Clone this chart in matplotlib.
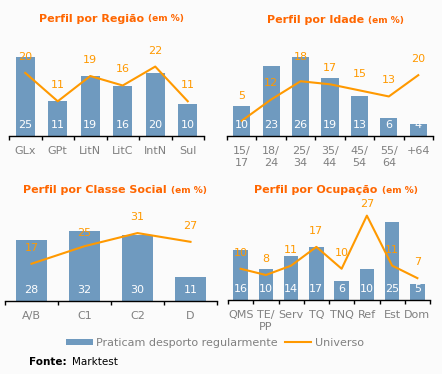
import matplotlib
matplotlib.use("Agg")
import matplotlib.pyplot as plt

# data
regiao_cats = ["GLx", "GPt", "LitN", "LitC", "IntN", "Sul"]
regiao_pratica = [25, 11, 19, 16, 20, 10]
regiao_universo = [20, 11, 19, 16, 22, 11]

idade_cats = ["15/\n17", "18/\n24", "25/\n34", "35/\n44", "45/\n54", "55/\n64", "+64"]
idade_pratica = [10, 23, 26, 19, 13, 6, 4]
idade_universo = [5, 12, 18, 17, 15, 13, 20]

classe_cats = ["A/B", "C1", "C2", "D"]
classe_pratica = [28, 32, 30, 11]
classe_universo = [17, 25, 31, 27]

ocup_cats = ["QMS", "TE/\nPP", "Serv", "TQ", "TNQ", "Ref", "Est", "Dom"]
ocup_pratica = [16, 10, 14, 17, 6, 10, 25, 5]
ocup_universo = [10, 8, 11, 17, 10, 27, 11, 7]

W, H = 442, 374
BG = "#fbfbfb"
BAR = "#6f9abf"
LINE = "#ff9900"
TITLE = "#ff6600"
GREY = "#808080"

fig = plt.figure(figsize=(W / 100, H / 100), dpi=100, facecolor=BG)


def px_axes(left, right, base, top):
    return fig.add_axes([left / W, 1 - base / H, (right - left) / W, (base - top) / H])


def panel(ax, cats, bars, line, ymax, label_dy=None):
    label_dy = label_dy or {}
    n = len(cats)
    x = list(range(n))
    ax.set_facecolor(BG)
    b = ax.bar(x, bars, width=0.58, color=BAR)
    ln, = ax.plot(x, line, color=LINE, lw=1.5, zorder=3)
    ax.set_xlim(-0.5, n - 0.5)
    ax.set_ylim(0, ymax)
    for s in ["top", "left", "right"]:
        ax.spines[s].set_visible(False)
    ax.spines["bottom"].set_linewidth(1)
    ax.set_yticks([])
    ax.set_xticks(x)
    ax.set_xticklabels(cats, fontsize=8, color=GREY, linespacing=1.25)
    ax.tick_params(axis="x", which="major", length=0, pad=7)
    ax.set_xticks([i - 0.5 for i in range(n + 1)], minor=True)
    ax.tick_params(axis="x", which="minor", length=3, width=1, direction="out")
    for i, v in enumerate(bars):
        ax.annotate(str(v), (i, 0), xytext=(0, 11 * 0.72), textcoords="offset points",
                    ha="center", va="center", color="white", fontsize=8)
    for i, v in enumerate(line):
        dy = label_dy.get(i, 16)
        ax.annotate(str(v), (i, v), xytext=(0, dy * 0.72), textcoords="offset points",
                    ha="center", va="center", color=LINE, fontsize=8, zorder=4)
    return b, ln


def title(xc, yc, main):
    t1 = fig.text(0, 0, main + " ", fontsize=8, fontweight="bold", color=TITLE)
    t2 = fig.text(0, 0, "(em %)", fontsize=6.5, fontweight="bold", color=TITLE)
    r = fig.canvas.get_renderer()
    w1 = t1.get_window_extent(r).width
    w2 = t2.get_window_extent(r).width
    x0 = xc - (w1 + w2) / 2
    t1.set_position((x0 / W, 1 - yc / H))
    t1.set_va("center")
    t2.set_position(((x0 + w1) / W, 1 - yc / H))
    t2.set_va("center")


ax1 = px_axes(9, 204, 136, 35)
bars, line = panel(ax1, regiao_cats, regiao_pratica, regiao_universo, 32)
ax2 = px_axes(227, 433, 136, 35)
panel(ax2, idade_cats, idade_pratica, idade_universo, 33.2, {0: 25, 2: 24})
ax3 = px_axes(5, 217, 301, 205)
panel(ax3, classe_cats, classe_pratica, classe_universo, 43.8, {1: 13})
ax4 = px_axes(228, 430, 300, 205)
panel(ax4, ocup_cats, ocup_pratica, ocup_universo, 30.4, {5: 12})

title(111, 19, "Perfil por Região")
title(335, 20, "Perfil por Idade")
title(115, 190, "Perfil por Classe Social")
title(336, 190, "Perfil por Ocupação")

fig.legend([bars, line], ["Praticam desporto regularmente", "Universo"],
           loc="center", bbox_to_anchor=(215 / W, 1 - 343 / H), ncol=2, frameon=False,
           fontsize=8, labelcolor=GREY, handlelength=2.4, handleheight=0.55,
           handletextpad=0.3, columnspacing=0.6, borderpad=0, borderaxespad=0)

fig.text(29 / W, 1 - 362 / H, "Fonte:", fontsize=7.5, fontweight="bold", va="center")
fig.text(72 / W, 1 - 362 / H, "Marktest", fontsize=7.5, va="center")

fig.savefig("out.png", dpi=100, facecolor=BG)
